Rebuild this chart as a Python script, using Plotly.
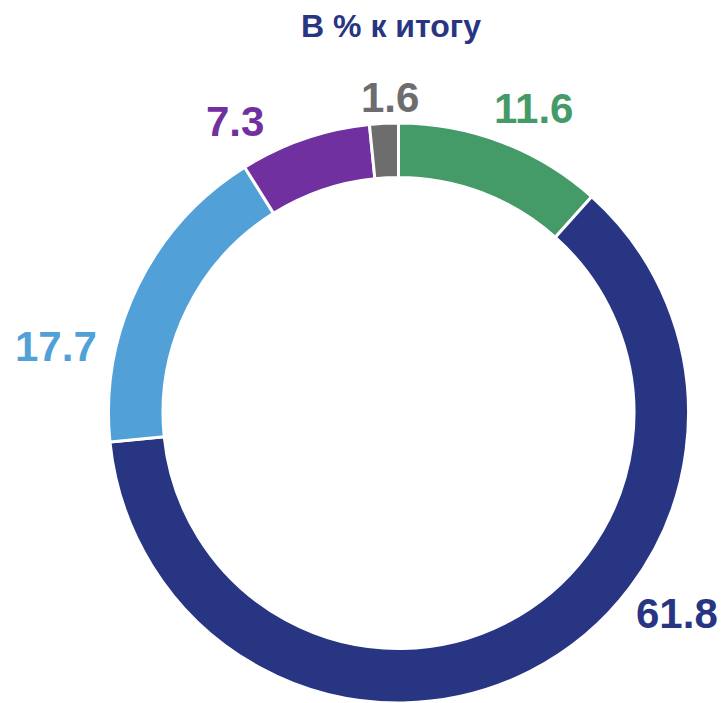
import plotly.graph_objects as go

# Data
categories = ["A", "B", "C", "D", "E"]
values = [11.6, 61.8, 17.7, 7.3, 1.6]
value_labels = ["11.6", "61.8", "17.7", "7.3", "1.6"]
colors = ["#459B68", "#283583", "#52A0D8", "#7030A0", "#6D6D6D"]
title_text = "В % к итогу"

W, H = 717, 695   # page has 8px body margin
OFF = 8
# label pixel positions in page coords (style/layout)
label_px = [(533, 108), (677, 613), (56, 347), (235, 122), (390, 98)]

cx, R = 398.5 - OFF, 290
fig = go.Figure(go.Pie(
    labels=categories,
    values=values,
    hole=0.812,
    sort=False,
    direction="clockwise",
    rotation=0,
    marker=dict(colors=colors, line=dict(color="white", width=3)),
    textinfo="none",
    hoverinfo="label+value",
    showlegend=False,
    domain=dict(x=[(cx - R) / W, (cx + R) / W], y=[0, 2 * R / H]),
))

annotations = []
for txt, col, (px, py) in zip(value_labels, colors, label_px):
    annotations.append(dict(
        x=(px - OFF) / W, y=1 - (py - OFF) / H, xref="paper", yref="paper",
        text=f"<b>{txt}</b>", showarrow=False,
        xanchor="center", yanchor="middle",
        font=dict(family="Liberation Sans, Arial", size=42, color=col),
    ))

fig.update_layout(
    width=W, height=H,
    margin=dict(l=0, r=0, t=0, b=0),
    paper_bgcolor="white",
    plot_bgcolor="white",
    title=dict(
        text=f"<b>{title_text}</b>",
        x=(391 - OFF) / W, xanchor="center",
        y=1 - (26 - OFF) / H, yanchor="middle", yref="container",
        font=dict(family="Liberation Sans, Arial", size=32, color="#283583"),
    ),
    annotations=annotations,
)

fig.write_html("out.html")
